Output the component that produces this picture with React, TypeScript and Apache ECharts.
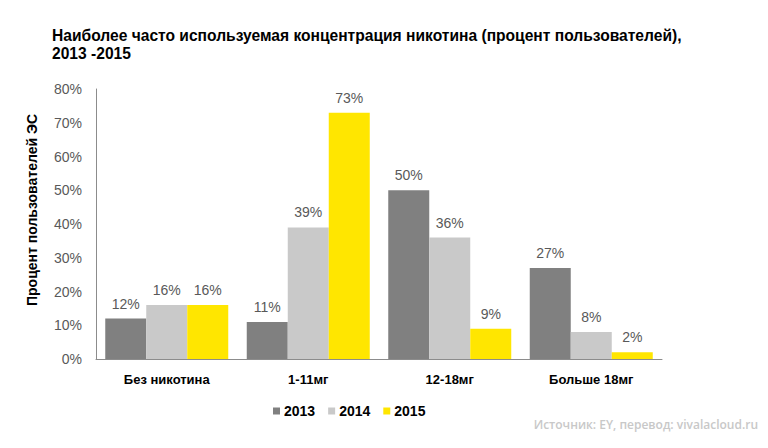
import React, { useEffect, useRef } from "react";
import * as echarts from "echarts";

const categories = ["Без никотина", "1-11мг", "12-18мг", "Больше 18мг"];
const years = ["2013", "2014", "2015"];
const values2013 = [12, 11, 50, 27];
const values2014 = [16, 39, 36, 8];
const values2015 = [16, 73, 9, 2];
const yTicks = [0, 10, 20, 30, 40, 50, 60, 70, 80];
const colors = ["#808080", "#c9c9c9", "#ffe600"];

export default function App() {
  const ref = useRef<HTMLDivElement>(null);
  useEffect(() => {
    const chart = echarts.init(ref.current!, undefined, { renderer: "svg" });
    const font = "Liberation Sans, Arial, Helvetica, sans-serif";
    const seriesData = [values2013, values2014, values2015];
    chart.setOption({
      animation: false,
      textStyle: { fontFamily: font },
      title: {
        text: "Наиболее часто используемая концентрация никотина (процент пользователей),\n2013 -2015",
        left: 47,
        top: 21,
        textStyle: { fontSize: 15.6, fontWeight: "bold", color: "#000", lineHeight: 18, fontFamily: font },
      },
      grid: { left: 96, right: 106, top: 89, bottom: 89 },
      legend: {
        data: years,
        left: 268,
        top: 399,
        itemWidth: 7,
        itemHeight: 7,
        itemGap: 13,
        icon: "rect",
        textStyle: { fontSize: 14, fontWeight: "bold", color: "#000", padding: [0, 0, 0, -1] },
      },
      xAxis: {
        type: "category",
        data: categories,
        axisLine: { show: true, lineStyle: { color: "#8c8c8c", width: 1 } },
        axisTick: { show: false },
        axisLabel: { fontSize: 13, fontWeight: "bold", color: "#000", margin: 14 },
      },
      yAxis: {
        type: "value",
        min: yTicks[0],
        max: yTicks[yTicks.length - 1],
        interval: 10,
        axisLine: { show: true, lineStyle: { color: "#8c8c8c", width: 1 } },
        axisTick: { show: false },
        splitLine: { show: false },
        axisLabel: { fontSize: 14, color: "#595959", formatter: "{value}%", margin: 14 },
      },
      series: years.map((y, i) => ({
        name: y,
        type: "bar",
        data: seriesData[i],
        barWidth: 41,
        barGap: "0%",
        itemStyle: { color: colors[i] },
        label: {
          show: true,
          position: "top",
          distance: 8,
          formatter: "{c}%",
          fontSize: 14,
          color: "#595959",
        },
      })),
      graphic: [
        {
          type: "text",
          x: 32,
          y: 210,
          rotation: Math.PI / 2,
          style: {
            text: "Процент пользователей ЭС",
            fontSize: 14,
            fontWeight: "bold",
            fill: "#000",
            fontFamily: font,
            textAlign: "center",
            textVerticalAlign: "middle",
          },
        },
        {
          type: "text",
          right: 10,
          top: 418,
          style: {
            text: "Источник: EY, перевод: vivalacloud.ru",
            fontSize: 12,
            fontWeight: 600,
            fill: "#c8c8c8",
            fontFamily: "Open Sans, sans-serif",
          },
        },
      ],
    });
    return () => chart.dispose();
  }, []);
  return <div ref={ref} style={{ width: 768, height: 448, position: "absolute", left: 0, top: 0, background: "#fff" }} />;
}
